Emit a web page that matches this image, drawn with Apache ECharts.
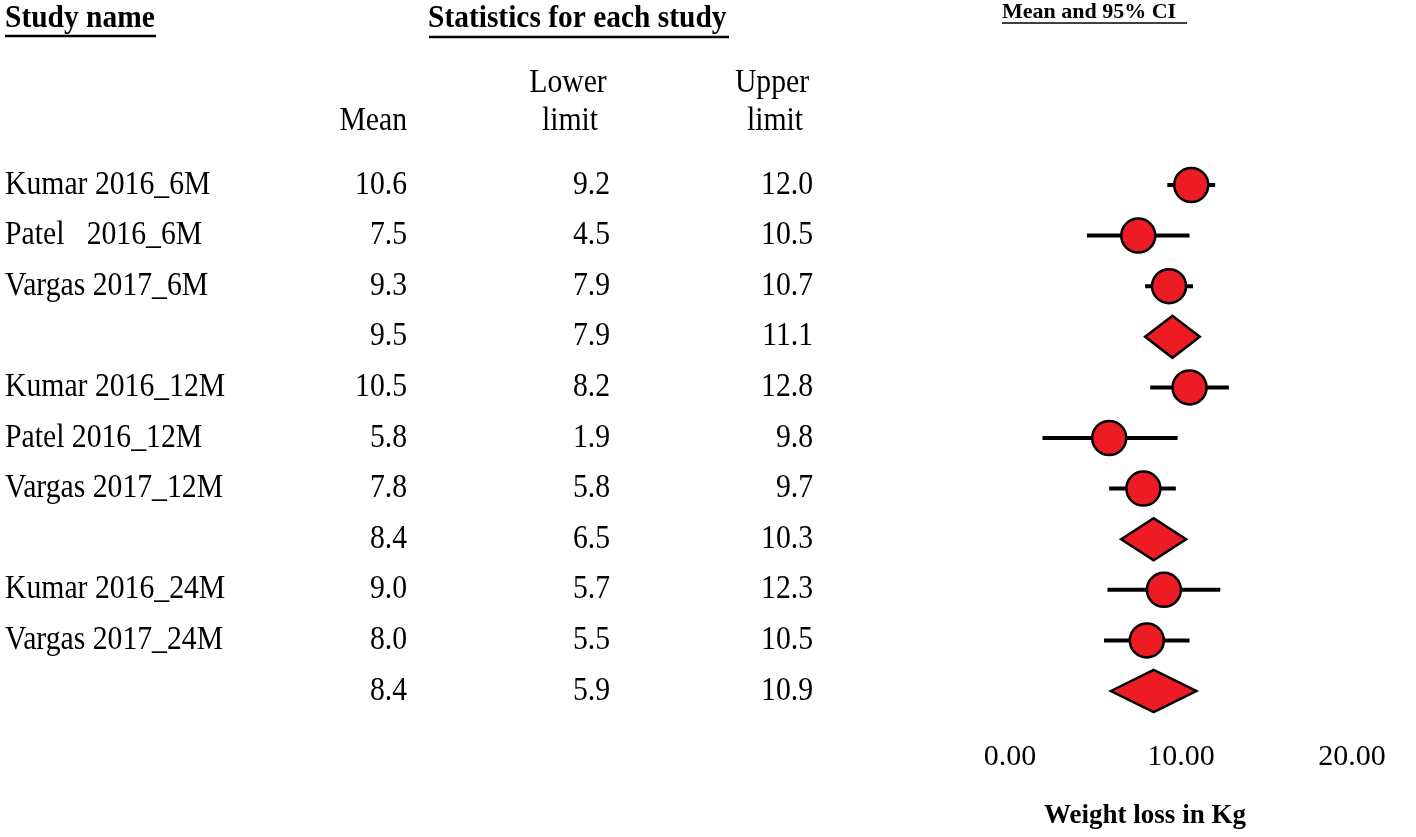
<!DOCTYPE html>
<html>
<head>
<meta charset="utf-8">
<script src="https://cdn.jsdelivr.net/npm/echarts@6/dist/echarts.min.js"></script>
<style>html,body{margin:0;padding:0;background:#fff;}#c{width:1416px;height:837px;}</style>
</head>
<body>
<div id="c"></div>
<script>
const studyNames = ['Kumar 2016_6M', 'Patel   2016_6M', 'Vargas 2017_6M', '', 'Kumar 2016_12M', 'Patel 2016_12M', 'Vargas 2017_12M', '', 'Kumar 2016_24M', 'Vargas 2017_24M', ''];
const means = [10.6, 7.5, 9.3, 9.5, 10.5, 5.8, 7.8, 8.4, 9.0, 8.0, 8.4];
const lowerLimits = [9.2, 4.5, 7.9, 7.9, 8.2, 1.9, 5.8, 6.5, 5.7, 5.5, 5.9];
const upperLimits = [12.0, 10.5, 10.7, 11.1, 12.8, 9.8, 9.7, 10.3, 12.3, 10.5, 10.9];
const rowKinds = ['study', 'study', 'study', 'summary', 'study', 'study', 'study', 'summary', 'study', 'study', 'summary'];
const xTicks = [0, 10, 20];

const FONT = '"Liberation Serif", "Times New Roman", serif';
const RED = '#ED1C24';

const rows = means.map((m, i) => [m, i, lowerLimits[i], upperLimits[i]]);

const chart = echarts.init(document.getElementById('c'), null, {renderer: 'canvas'});

// condensed text: drawn at a given size and narrowed horizontally around its anchor
function textEl(x, y, text, align, size, weight, sx) {
  return {
    type: 'text',
    x: x, y: y,
    scaleX: sx || 1,
    style: {
      x: 0, y: 0, text: text,
      align: align, verticalAlign: 'middle',
      font: (weight || 'normal') + ' ' + size + 'px ' + FONT,
      fill: '#000'
    }
  };
}

const BODY = 33, SX = 0.9;

chart.setOption({
  animation: false,
  backgroundColor: '#fff',
  grid: {left: 1010, width: 342, top: 185, height: 506, outerBoundsMode: 'none'},
  xAxis: {
    type: 'value', min: xTicks[0], max: xTicks[xTicks.length - 1], interval: 10,
    axisLine: {show: false}, axisTick: {show: false}, splitLine: {show: false},
    axisLabel: {
      margin: 51, color: '#000', fontFamily: FONT, fontSize: 30,
      formatter: v => v.toFixed(2)
    }
  },
  yAxis: {type: 'value', min: 0, max: 10, inverse: true, show: false},
  graphic: [
    textEl(5, 19, 'Study name', 'left', 31, 'bold', 0.95),
    {type: 'line', shape: {x1: 5, y1: 36, x2: 156, y2: 36}, style: {stroke: '#000', lineWidth: 2.5}},
    textEl(428, 19, 'Statistics for each study', 'left', 31, 'bold', 0.95),
    {type: 'line', shape: {x1: 429, y1: 37, x2: 729, y2: 37}, style: {stroke: '#000', lineWidth: 2.5}},
    textEl(1002, 12, 'Mean and 95% CI', 'left', 22, 'bold'),
    {type: 'line', shape: {x1: 1002, y1: 23, x2: 1187, y2: 23}, style: {stroke: '#000', lineWidth: 1.5}},
    textEl(407, 121, 'Mean', 'right', BODY, 'normal', SX),
    textEl(568, 83, 'Lower', 'center', BODY, 'normal', SX),
    textEl(570, 121, 'limit', 'center', BODY, 'normal', SX),
    textEl(772, 83, 'Upper', 'center', BODY, 'normal', SX),
    textEl(775, 121, 'limit', 'center', BODY, 'normal', SX),
    textEl(1145, 816, 'Weight loss in Kg', 'center', 27, 'bold')
  ],
  series: [
    {
      type: 'custom',
      name: 'table',
      clip: false,
      silent: true,
      data: rows,
      encode: {x: 0, y: 1},
      renderItem: function (params, api) {
        const i = api.value(1);
        const y = api.coord([0, i])[1];
        return {
          type: 'group',
          children: [
            textEl(5, y, studyNames[i], 'left', BODY, 'normal', SX),
            textEl(407, y, means[i].toFixed(1), 'right', BODY, 'normal', SX),
            textEl(610, y, lowerLimits[i].toFixed(1), 'right', BODY, 'normal', SX),
            textEl(813, y, upperLimits[i].toFixed(1), 'right', BODY, 'normal', SX)
          ]
        };
      }
    },
    {
      type: 'custom',
      name: 'forest',
      clip: false,
      silent: true,
      data: rows,
      encode: {x: [0, 2, 3], y: 1},
      renderItem: function (params, api) {
        const i = api.value(1);
        const pm = api.coord([api.value(0), i]);
        const pl = api.coord([api.value(2), i]);
        const pu = api.coord([api.value(3), i]);
        if (rowKinds[i] === 'summary') {
          const h = 21;
          return {
            type: 'polygon',
            shape: {points: [[pl[0], pm[1]], [pm[0], pm[1] - h], [pu[0], pm[1]], [pm[0], pm[1] + h]]},
            style: {fill: RED, stroke: '#000', lineWidth: 2.5}
          };
        }
        return {
          type: 'group',
          children: [
            {type: 'line', shape: {x1: pl[0], y1: pm[1], x2: pu[0], y2: pm[1]}, style: {stroke: '#000', lineWidth: 4}},
            {type: 'circle', shape: {cx: pm[0], cy: pm[1], r: 17}, style: {fill: RED, stroke: '#000', lineWidth: 2.5}}
          ]
        };
      }
    }
  ]
});
</script>
</body>
</html>
